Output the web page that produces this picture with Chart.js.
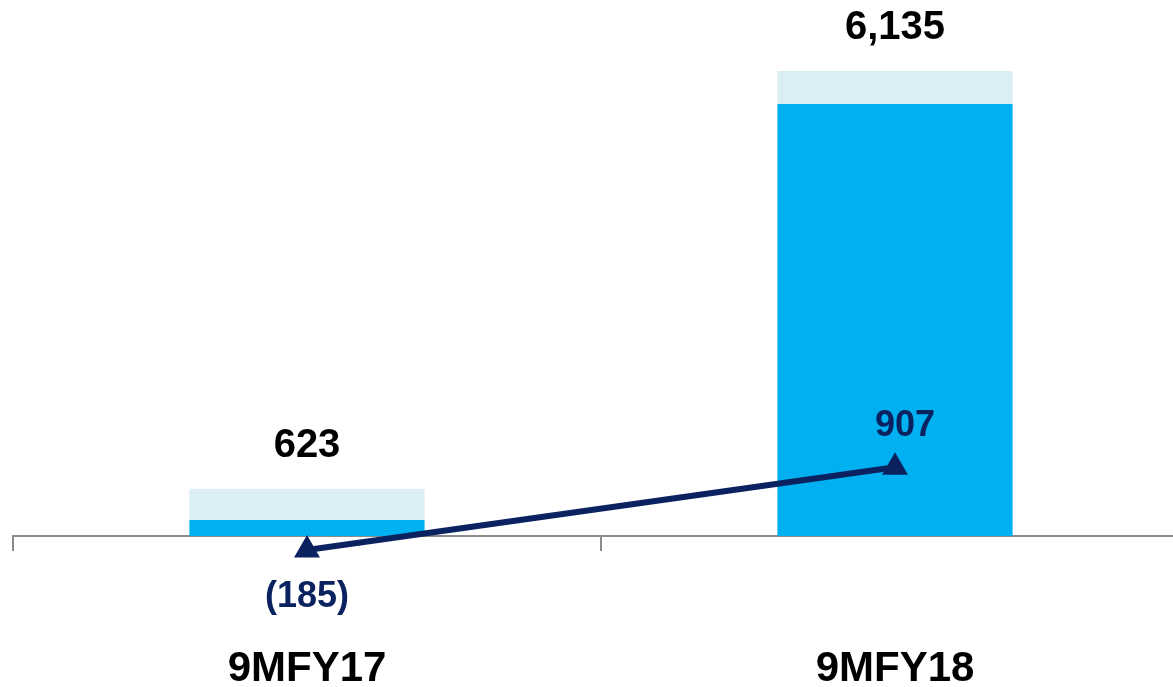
<!doctype html>
<html>
  <head>
    <meta charset="utf-8" />
    <title>9MFY17 vs 9MFY18</title>
    <script src="https://cdn.jsdelivr.net/npm/chart.js"></script>
    <style>
      html, body { margin: 0; padding: 0; overflow: hidden; background: #fff; }
      #chart { position: absolute; left: 0; top: 0; }
    </style>
  </head>
  <body>
    <canvas id="chart" width="1189" height="700"></canvas>
    <script>
      // values
      const periods = ["9MFY17", "9MFY18"];
      const baseValues = [211, 5699];
      const topValues = [412, 436];
      const totals = [623, 6135];
      const lineValues = [-185, 907];

      const fontFamily = "'Liberation Sans', Arial, sans-serif";
      const navy = "#0b2260";

      function fmtLine(v) {
        return v < 0 ? "(" + Math.abs(v) + ")" : String(v);
      }

      // draws the totals above bars and the line values near the markers
      const valueLabels = {
        id: "valueLabels",
        afterDatasetsDraw(chart) {
          const { ctx } = chart;
          const x = chart.scales.x;
          const y = chart.scales.y;
          ctx.save();
          ctx.textAlign = "center";
          ctx.textBaseline = "middle";
          ctx.font = "bold 40px " + fontFamily;
          ctx.fillStyle = "#000";
          totals.forEach((t, i) => {
            ctx.fillText(t.toLocaleString("en-US"), x.getPixelForValue(i), y.getPixelForValue(t) - 43);
          });
          ctx.font = "bold 36px " + fontFamily;
          ctx.fillStyle = navy;
          lineValues.forEach((v, i) => {
            const py = y.getPixelForValue(v);
            ctx.fillText(fmtLine(v), x.getPixelForValue(i) + (v < 0 ? 0 : 10), v < 0 ? py + 47 : py - 41);
          });
          ctx.restore();
        },
      };

      new Chart(document.getElementById("chart"), {
        data: {
          labels: periods,
          datasets: [
            {
              type: "line",
              data: lineValues,
              stack: "line",
              order: 0,
              borderColor: navy,
              borderWidth: 6,
              pointStyle: "triangle",
              pointRadius: 13,
              pointBorderWidth: 2,
              pointBackgroundColor: navy,
              pointBorderColor: navy,
              clip: false,
            },
            {
              type: "bar",
              data: baseValues,
              stack: "bars",
              order: 1,
              backgroundColor: "#00b0f0",
              barPercentage: 0.4,
              categoryPercentage: 1,
            },
            {
              type: "bar",
              data: topValues,
              stack: "bars",
              order: 2,
              backgroundColor: "#daeef3",
              barPercentage: 0.4,
              categoryPercentage: 1,
            },
          ],
        },
        options: {
          responsive: false,
          animation: false,
          devicePixelRatio: 1,
          layout: { autoPadding: false, padding: { top: 71, left: 13, right: 0, bottom: 0 } },
          plugins: { legend: { display: false }, tooltip: { enabled: false } },
          scales: {
            x: {
              stacked: true,
              grid: {
                display: true,
                drawOnChartArea: false,
                drawTicks: true,
                tickLength: 15,
                color: "#8c8c8c",
                lineWidth: 2,
                offset: true,
              },
              border: { display: true, color: "#8c8c8c", width: 2 },
              ticks: {
                color: "#000",
                padding: 97,
                font: { family: fontFamily, size: 42, weight: "bold", lineHeight: 1 },
              },
              afterFit(scale) {
                scale.height = 164;
              },
            },
            y: {
              stacked: true,
              display: false,
              min: 0,
              max: 6135,
            },
          },
        },
        plugins: [valueLabels],
      });
    </script>
  </body>
</html>
